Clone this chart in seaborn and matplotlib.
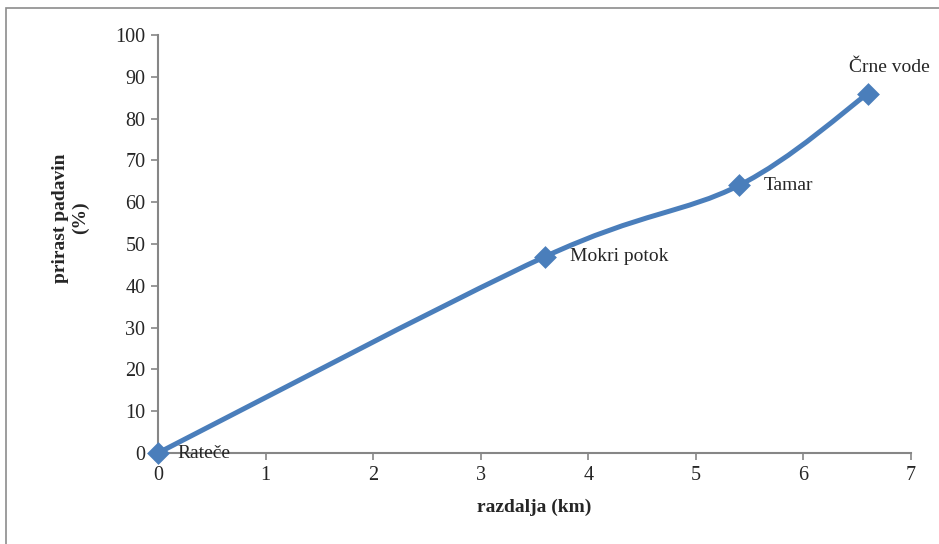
import matplotlib
matplotlib.use("Agg")
import matplotlib.pyplot as plt
from matplotlib.path import Path
from matplotlib.patches import PathPatch, Rectangle
import seaborn as sns
import pandas as pd
import numpy as np

# data
stations = ["Rateče", "Mokri potok", "Tamar", "Črne vode"]
distance_km = [0.0, 3.6, 5.4, 6.6]
increase_pct = [0.0, 47.0, 64.0, 86.0]

df = pd.DataFrame({"station": stations, "km": distance_km, "pct": increase_pct})

sns.set_style("white")
plt.rcParams["font.family"] = ["Liberation Serif", "DejaVu Serif"]

line_col = "#4A7EBB"
axis_col = "#868686"

fig = plt.figure(figsize=(9.39, 5.44), dpi=100)
ax = fig.add_axes([158 / 939, 1 - 453 / 544, 753 / 939, 418 / 544])

# smoothed line like Excel (Catmull-Rom as cubic Bezier through the points)
pts = df[["km", "pct"]].to_numpy()
ext = np.vstack([pts[0], pts, pts[-1]])
verts = [tuple(pts[0])]
codes = [Path.MOVETO]
for i in range(len(pts) - 1):
    p0, p1, p2, p3 = ext[i], ext[i + 1], ext[i + 2], ext[i + 3]
    c1 = p1 + (p2 - p0) / 6
    c2 = p2 - (p3 - p1) / 6
    verts += [tuple(c1), tuple(c2), tuple(p2)]
    codes += [Path.CURVE4] * 3
ax.add_patch(PathPatch(Path(verts, codes), facecolor="none", edgecolor=line_col,
                       lw=3.6, capstyle="round", zorder=2, clip_on=False))

sns.scatterplot(data=df, x="km", y="pct", marker="D", s=135, color=line_col,
                edgecolor=line_col, linewidth=0, ax=ax, zorder=3, clip_on=False)

# station labels
offsets = [(14, 0), (18, 0), (18, 0), (-14, 19)]
for (name, x, y), (dx, dy) in zip(zip(stations, distance_km, increase_pct), offsets):
    ax.annotate(name, (x, y), xytext=(dx, dy), textcoords="offset points",
                ha="left", va="center", fontsize=14, clip_on=False)

ax.set_xlim(0, 7)
ax.set_ylim(0, 100)
ax.set_xticks(range(0, 8))
ax.set_yticks(range(0, 101, 10))
ax.tick_params(axis="both", direction="out", length=5, width=1.2, color=axis_col,
               labelsize=14.5, pad=4, bottom=True, left=True)
for side in ["top", "right"]:
    ax.spines[side].set_visible(False)
for side in ["left", "bottom"]:
    ax.spines[side].set_color(axis_col)
    ax.spines[side].set_linewidth(1.5)

ax.set_xlabel("razdalja (km)", fontsize=14, fontweight="bold", labelpad=10)
ax.set_ylabel("prirast padavin\n(%)", fontsize=14, fontweight="bold", linespacing=1.15)
ax.yaxis.set_label_coords(-0.092, 0.562)

# outer chart frame
fig.patches.append(Rectangle((6 / 939, -0.05), 1.1, 1 - 8 / 544 + 0.05,
                             transform=fig.transFigure, fill=False,
                             edgecolor="#8c8c8c", lw=1.2))

fig.savefig("out.png", dpi=100)
